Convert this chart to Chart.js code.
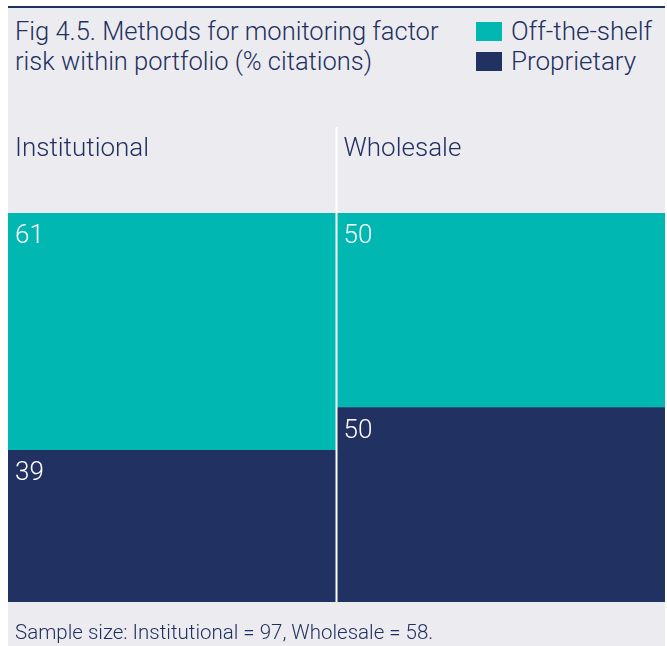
<!DOCTYPE html>
<html>
<head>
<meta charset="utf-8">
<script src="https://cdn.jsdelivr.net/npm/chart.js@4.4.1/dist/chart.umd.min.js"></script>
<style>
    html, body { margin: 0; padding: 0; background: #ffffff; }
    #wrap { position: relative; width: 667px; height: 646px; overflow: hidden; font-family: Roboto, sans-serif; font-weight: 300; color: #22305f; }
    #panel { position: absolute; left: 8px; top: 8px; width: 657px; height: 638px; background: #ececf0; }
    #topline { position: absolute; left: 8px; top: 6px; width: 657px; height: 2px; background: #22305f; }
    #title { position: absolute; left: 15px; top: 16px; font-size: 25.5px; line-height: 30px; white-space: nowrap; }
    #legend { position: absolute; left: 476px; top: 16px; font-size: 26px; line-height: 30px; white-space: nowrap; }
    .lg-row { display: flex; align-items: center; }
    .lg-box { width: 26px; height: 19px; margin-right: 9px; }
    #note { position: absolute; left: 15px; top: 621px; font-size: 20.5px; line-height: 22px; white-space: nowrap; }
    #chart { position: absolute; left: 0; top: 0; }
</style>
</head>
<body>
<div id="wrap">
    <div id="panel"></div>
    <div id="topline"></div>
    <div id="title">Fig 4.5. Methods for monitoring factor<br>risk within portfolio (% citations)</div>
    <div id="legend"></div>
    <canvas id="chart" width="667" height="646"></canvas>
    <div id="note">Sample size: Institutional = 97, Wholesale = 58.</div>
</div>
<script>
// 100% gestapelde kolommen: methoden voor monitoring van factorrisico

const CATEGORIES = ['Institutional', 'Wholesale'];
const SERIES_NAMES = ['Off-the-shelf', 'Proprietary'];
const OFF_THE_SHELF = [61, 50];
const PROPRIETARY = [39, 50];

const COLORS = { offTheShelf: '#00b8b1', proprietary: '#213162', text: '#22305f' };
const FONT = 'Roboto, sans-serif';

document.getElementById('legend').innerHTML = SERIES_NAMES.map((name, i) => `
    <div class="lg-row">
        <span class="lg-box" style="background:${i === 0 ? COLORS.offTheShelf : COLORS.proprietary}"></span>
        <span>${name}</span>
    </div>`).join('');

// categorie-labels, scheidingslijn en waardelabels
const overlayPlugin = {
    id: 'overlay',
    afterDatasetsDraw(chart) {
        const ctx = chart.ctx;
        const x = chart.scales.x;
        const area = chart.chartArea;

        ctx.save();
        // witte scheiding tussen de twee kolommen, doorlopend tot boven de labels
        const sepX = x.getPixelForValue(0.5);
        ctx.strokeStyle = '#ffffff';
        ctx.lineWidth = 2;
        ctx.beginPath();
        ctx.moveTo(sepX, 127);
        ctx.lineTo(sepX, area.bottom);
        ctx.stroke();

        ctx.font = `300 26px ${FONT}`;
        ctx.textBaseline = 'alphabetic';
        ctx.textAlign = 'left';

        const firstMeta = chart.getDatasetMeta(0);
        firstMeta.data.forEach((bar, i) => {
            const left = bar.x - bar.width / 2;
            ctx.fillStyle = COLORS.text;
            ctx.fillText(CATEGORIES[i], left + 7, 156);
        });

        chart.data.datasets.forEach((ds, di) => {
            const meta = chart.getDatasetMeta(di);
            meta.data.forEach((bar, i) => {
                const left = bar.x - bar.width / 2;
                const top = Math.min(bar.y, bar.base);
                ctx.fillStyle = '#ffffff';
                ctx.fillText(String(ds.data[i]), left + 7, top + 30);
            });
        });
        ctx.restore();
    }
};

new Chart(document.getElementById('chart').getContext('2d'), {
    type: 'bar',
    data: {
        labels: CATEGORIES,
        datasets: [
            { label: SERIES_NAMES[1], data: PROPRIETARY, backgroundColor: COLORS.proprietary },
            { label: SERIES_NAMES[0], data: OFF_THE_SHELF, backgroundColor: COLORS.offTheShelf }
        ]
    },
    options: {
        responsive: false,
        animation: false,
        layout: { padding: { left: 8, right: 2, top: 213, bottom: 44 } },
        datasets: { bar: { categoryPercentage: 1, barPercentage: 1, borderWidth: 0 } },
        scales: {
            x: { stacked: true, display: false },
            y: { stacked: true, display: false, min: 0, max: 100 }
        },
        plugins: { legend: { display: false }, tooltip: { enabled: false } }
    },
    plugins: [overlayPlugin]
});
</script>
</body>
</html>
